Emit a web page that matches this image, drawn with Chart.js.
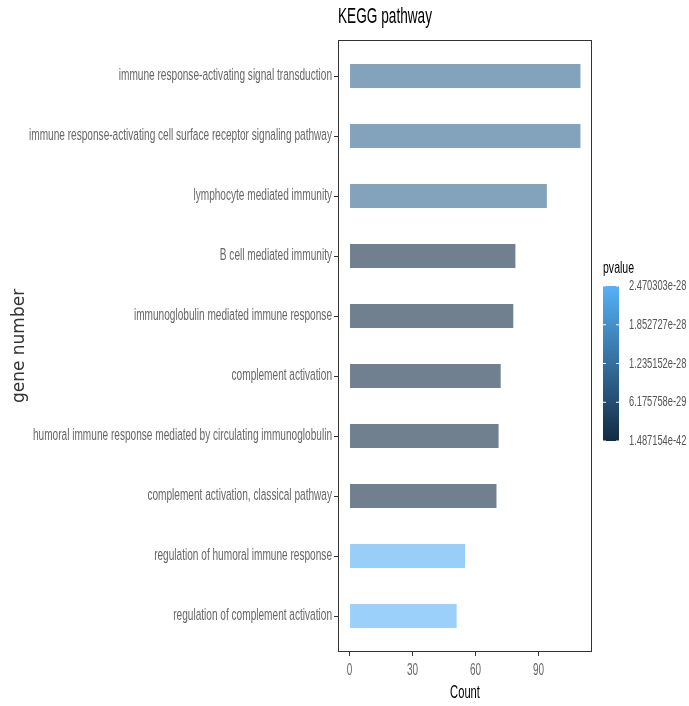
<!DOCTYPE html>
<html>
<head>
<meta charset="utf-8">
<script src="https://cdn.jsdelivr.net/npm/chart.js@4/dist/chart.umd.min.js"></script>
<style>
  body { margin: 0; background: #fff; }
  #wrap { width: 689px; height: 706px; }
</style>
</head>
<body>
<div id="wrap"><canvas id="myChart" width="689" height="706"></canvas></div>
<script>
"use strict";

// pathway terms, top to bottom
var categories = [
  "immune response-activating signal transduction",
  "immune response-activating cell surface receptor signaling pathway",
  "lymphocyte mediated immunity",
  "B cell mediated immunity",
  "immunoglobulin mediated immune response",
  "complement activation",
  "humoral immune response mediated by circulating immunoglobulin",
  "complement activation, classical pathway",
  "regulation of humoral immune response",
  "regulation of complement activation"
];
var counts = [110, 110, 94, 79, 78, 72, 71, 70, 55, 51];
var pvalues = [1.06e-28, 1.06e-28, 1.06e-28, 1.5e-42, 1.5e-42, 1.5e-42, 1.5e-42, 1.5e-42, 2.40e-28, 2.470303e-28];

var xTicks = [0, 30, 60, 90];
var legendValues = [2.470303e-28, 1.852727e-28, 1.235152e-28, 6.175758e-29, 1.487154e-42];
var legendLabels = ["2.470303e-28", "1.852727e-28", "1.235152e-28", "6.175758e-29", "1.487154e-42"];
var pMin = 1.487154e-42;
var pMax = 2.470303e-28;

var SANS = "'Liberation Sans', Arial, sans-serif";
var SQUEEZE = 0.62; // the original text is set in a narrow face
var lowColor = [19, 43, 67];
var highColor = [86, 177, 247];

function mix(t) {
  return [0, 1, 2].map(function (k) {
    return Math.round(lowColor[k] + (highColor[k] - lowColor[k]) * t);
  });
}

function barColor(p) {
  var c = mix((p - pMin) / (pMax - pMin));
  return "rgba(" + c[0] + "," + c[1] + "," + c[2] + ",0.6)";
}

var origFillText = null;

// narrow text, panel border + colour bar legend
var extras = {
  id: "extras",
  beforeDraw: function (chart) {
    var ctx = chart.ctx;
    origFillText = ctx.fillText;
    ctx.fillText = function (t, x, y, mw) {
      if (this.font.indexOf("DejaVu") >= 0) return origFillText.call(this, t, x, y);
      var w = this.measureText(t).width * SQUEEZE;
      if (mw !== undefined && mw < w) w = mw;
      return origFillText.call(this, t, x, y, w);
    };
  },
  afterDraw: function (chart) {
    var ctx = chart.ctx;
    var a = chart.chartArea;
    ctx.save();
    ctx.strokeStyle = "#333";
    ctx.lineWidth = 1;
    ctx.strokeRect(a.left + 0.5, a.top + 0.5, a.right - a.left - 1, a.bottom - a.top - 1);

    var bx = a.right + 11, bw = 16, top = 286, bottom = 441;
    var g = ctx.createLinearGradient(0, bottom, 0, top);
    g.addColorStop(0, "rgb(" + lowColor.join(",") + ")");
    g.addColorStop(1, "rgb(" + highColor.join(",") + ")");
    ctx.fillStyle = g;
    ctx.fillRect(bx, top, bw, bottom - top);

    ctx.fillStyle = "#000";
    ctx.font = "17px " + SANS;
    ctx.textBaseline = "alphabetic";
    ctx.textAlign = "left";
    ctx.fillText("pvalue", bx, 273);

    ctx.font = "15px " + SANS;
    ctx.textBaseline = "middle";
    ctx.strokeStyle = "#fff";
    for (var i = 0; i < legendValues.length; i++) {
      var t = (legendValues[i] - pMin) / (pMax - pMin);
      var y = bottom - t * (bottom - top);
      ctx.beginPath();
      ctx.moveTo(bx, y); ctx.lineTo(bx + 3, y);
      ctx.moveTo(bx + bw - 3, y); ctx.lineTo(bx + bw, y);
      ctx.stroke();
      ctx.fillStyle = "#555";
      ctx.fillText(legendLabels[i], bx + bw + 10, y);
    }
    ctx.restore();
    ctx.fillText = origFillText;
  }
};

function draw() {
  new Chart(document.getElementById("myChart"), {
    type: "bar",
    data: {
      datasets: [{
        label: "Count",
        data: counts.map(function (c, i) { return { x: c, y: i }; }),
        backgroundColor: pvalues.map(barColor),
        borderWidth: 0,
        categoryPercentage: 1,
        barPercentage: 0.4
      }]
    },
    options: {
      responsive: false,
      animation: false,
      indexAxis: "y",
      layout: { padding: { left: 0, right: 97, top: 0, bottom: 0 } },
      plugins: {
        legend: { display: false },
        tooltip: { enabled: false },
        title: {
          display: true,
          text: "KEGG pathway",
          align: "start",
          fullSize: false,
          color: "#000",
          font: { family: SANS, size: 22, weight: "normal" },
          padding: { top: 4, bottom: 9.6 }
        }
      },
      scales: {
        x: {
          type: "linear",
          min: -5.5,
          max: 115.5,
          afterBuildTicks: function (s) {
            s.ticks = xTicks.map(function (v) { return { value: v }; });
          },
          afterFit: function (s) { s.height = 54; },
          grid: { drawOnChartArea: false, tickLength: 4, color: "#333" },
          border: { display: false },
          ticks: { color: "#666", padding: 5, font: { family: SANS, size: 16 } },
          title: {
            display: true,
            text: "Count",
            color: "#000",
            font: { family: SANS, size: 18 },
            padding: { top: 0, bottom: 2 }
          }
        },
        y: {
          type: "linear",
          min: -0.6,
          max: 9.6,
          offset: false,
          reverse: true,
          afterBuildTicks: function (s) {
            s.ticks = categories.map(function (c, i) { return { value: i }; });
          },
          afterFit: function (s) { s.width = 338; },
          grid: { drawOnChartArea: false, offset: false, tickLength: 4, color: "#333" },
          border: { display: false },
          ticks: {
            color: "#666",
            padding: 2,
            autoSkip: false,
            font: { family: SANS, size: 16.3 },
            callback: function (v) { return categories[v]; }
          },
          title: {
            display: true,
            text: "gene number",
            color: "#333",
            font: { family: "'DejaVu Sans', sans-serif", size: 17 },
            padding: { top: 9, bottom: 0 }
          }
        }
      }
    },
    plugins: [extras]
  });
}

document.addEventListener("DOMContentLoaded", draw);
</script>
</body>
</html>
